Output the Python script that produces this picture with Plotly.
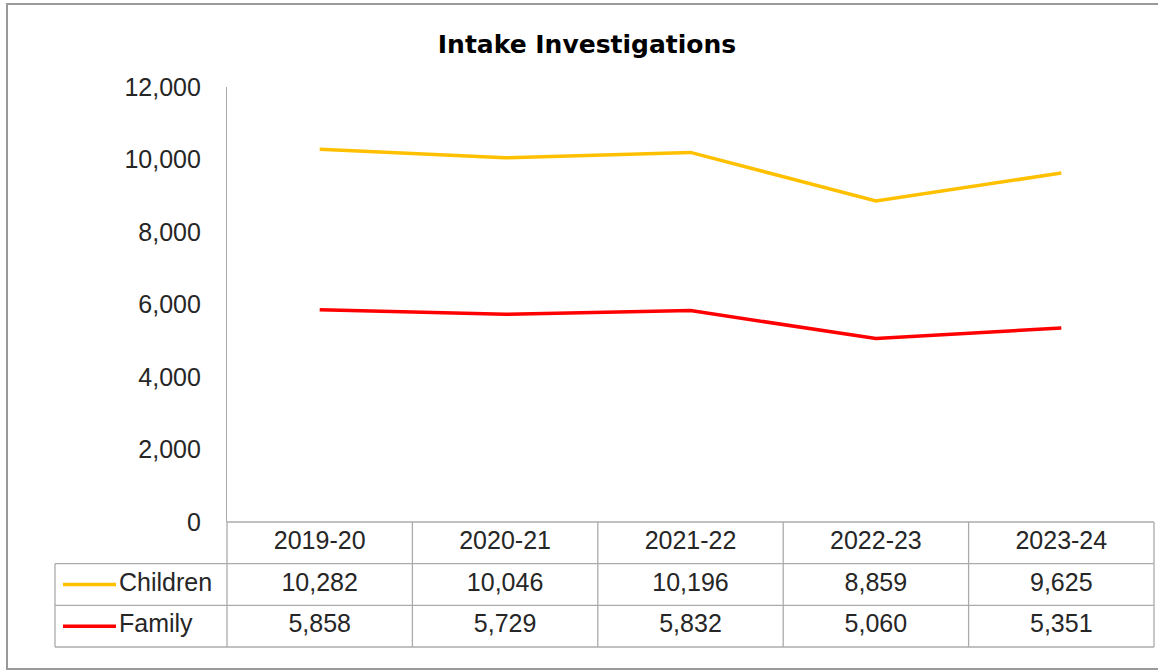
import plotly.graph_objects as go

# --- Data ---
YEARS = ["2019-20", "2020-21", "2021-22", "2022-23", "2023-24"]
CHILDREN = [10282, 10046, 10196, 8859, 9625]
FAMILY = [5858, 5729, 5832, 5060, 5351]
SERIES_NAMES = ["Children", "Family"]
Y_TICKS = [0, 2000, 4000, 6000, 8000, 10000, 12000]

# --- Style ---
W, H = 1158, 672
FONT = "Liberation Sans, Arial, sans-serif"
TITLE_FONT = "DejaVu Sans, Liberation Sans, sans-serif"
TXT = "#262626"
GRID = "#ABABAB"
COLORS = {"Children": "#FFC000", "Family": "#FF0000"}

# pixel layout of the Excel-like chart
PLOT_L, PLOT_R = 227, 1154      # plot area / category columns
PLOT_T, PLOT_B = 87, 522        # value axis top and zero
TABLE_L, TABLE_B = 55, 647      # data table left edge and bottom
PAD = 4                         # keep table edge lines from being clipped

col_w = (PLOT_R - PLOT_L) / len(YEARS)
row_h = (TABLE_B - PLOT_B) / 3


def px_x(p):
    return p / W


def px_y(p):
    return (H - p) / H


fig = go.Figure()

# --- Main lines ---
for name, vals in zip(SERIES_NAMES, [CHILDREN, FAMILY]):
    fig.add_trace(go.Scatter(
        x=list(range(len(YEARS))), y=vals, mode="lines", name=name,
        line=dict(color=COLORS[name], width=3.5), showlegend=False,
        xaxis="x", yaxis="y",
    ))

# --- Data table (own subplot, 1 unit = one category column / one row) ---
legend_units = (PLOT_L - TABLE_L) / col_w
t_left = -0.5 - legend_units
pad_x = PAD / col_w
pad_y = PAD / row_h
cell_font = dict(family=FONT, size=25, color=TXT)

# header row
fig.add_trace(go.Scatter(
    x=list(range(len(YEARS))), y=[2.5] * len(YEARS), mode="text", text=YEARS,
    textfont=cell_font, showlegend=False,
    xaxis="x2", yaxis="y2", hoverinfo="skip",
))

# value rows + legend keys
for row_y, name, vals in [(1.5, "Children", CHILDREN), (0.5, "Family", FAMILY)]:
    fig.add_trace(go.Scatter(
        x=list(range(len(YEARS))), y=[row_y] * len(YEARS), mode="text",
        text=[f"{v:,}" for v in vals],
        textfont=cell_font, showlegend=False,
        xaxis="x2", yaxis="y2", hoverinfo="skip",
    ))
    key_x0 = t_left + 8 / col_w
    key_x1 = t_left + 61 / col_w
    fig.add_trace(go.Scatter(
        x=[key_x0, key_x1], y=[row_y, row_y], mode="lines",
        line=dict(color=COLORS[name], width=3.5), showlegend=False,
        xaxis="x2", yaxis="y2", hoverinfo="skip",
    ))
    fig.add_trace(go.Scatter(
        x=[t_left + 64 / col_w], y=[row_y], mode="text", text=[name],
        textposition="middle right", textfont=cell_font,
        showlegend=False, xaxis="x2", yaxis="y2", hoverinfo="skip",
    ))

# table grid lines
shapes = []
line = dict(color=GRID, width=1.3)
# horizontal
shapes.append(dict(type="line", xref="x2", yref="y2", x0=-0.5, x1=4.5, y0=3, y1=3, line=line))
for yy in [2, 1, 0]:
    shapes.append(dict(type="line", xref="x2", yref="y2", x0=t_left, x1=4.5, y0=yy, y1=yy, line=line))
# vertical
for i in range(len(YEARS) + 1):
    shapes.append(dict(type="line", xref="x2", yref="y2", x0=i - 0.5, x1=i - 0.5, y0=0, y1=3, line=line))
shapes.append(dict(type="line", xref="x2", yref="y2", x0=t_left, x1=t_left, y0=0, y1=2, line=line))

# outer chart border (right side runs off the picture)
shapes.append(dict(type="rect", xref="paper", yref="paper",
                   x0=px_x(7), x1=px_x(W + 20), y0=px_y(669), y1=px_y(4),
                   line=dict(color="#9A9A9A", width=2), fillcolor="rgba(0,0,0,0)"))

fig.update_layout(
    width=W, height=H,
    margin=dict(l=0, r=0, t=0, b=0, autoexpand=False),
    paper_bgcolor="white", plot_bgcolor="rgba(0,0,0,0)",
    title=dict(text="<b>Intake Investigations</b>", x=px_x(587), xanchor="center",
               y=px_y(44), yanchor="middle",
               font=dict(family=TITLE_FONT, size=25, color="#000000")),
    xaxis=dict(domain=[px_x(PLOT_L), px_x(PLOT_R)], range=[-0.5, 4.5],
               visible=False, fixedrange=True),
    yaxis=dict(domain=[px_y(PLOT_B), px_y(PLOT_T)], range=[0, 12000],
               tickvals=Y_TICKS, tickformat=",", showgrid=False, zeroline=False,
               showline=True, linecolor=GRID, linewidth=1.3, ticks="",
               ticklabelstandoff=20,
               tickfont=dict(family=FONT, size=25, color=TXT)),
    xaxis2=dict(domain=[px_x(TABLE_L - PAD), px_x(PLOT_R + PAD)],
                range=[t_left - pad_x, 4.5 + pad_x], visible=False, anchor="y2"),
    yaxis2=dict(domain=[px_y(TABLE_B + PAD), px_y(PLOT_B - PAD)],
                range=[-pad_y, 3 + pad_y], visible=False, anchor="x2"),
    shapes=shapes,
    hovermode=False,
)

# the page's default body margin would shift the whole figure by 8px
fig.write_html("out.html", config={"displayModeBar": False},
               post_script="document.body.style.margin='0';")
